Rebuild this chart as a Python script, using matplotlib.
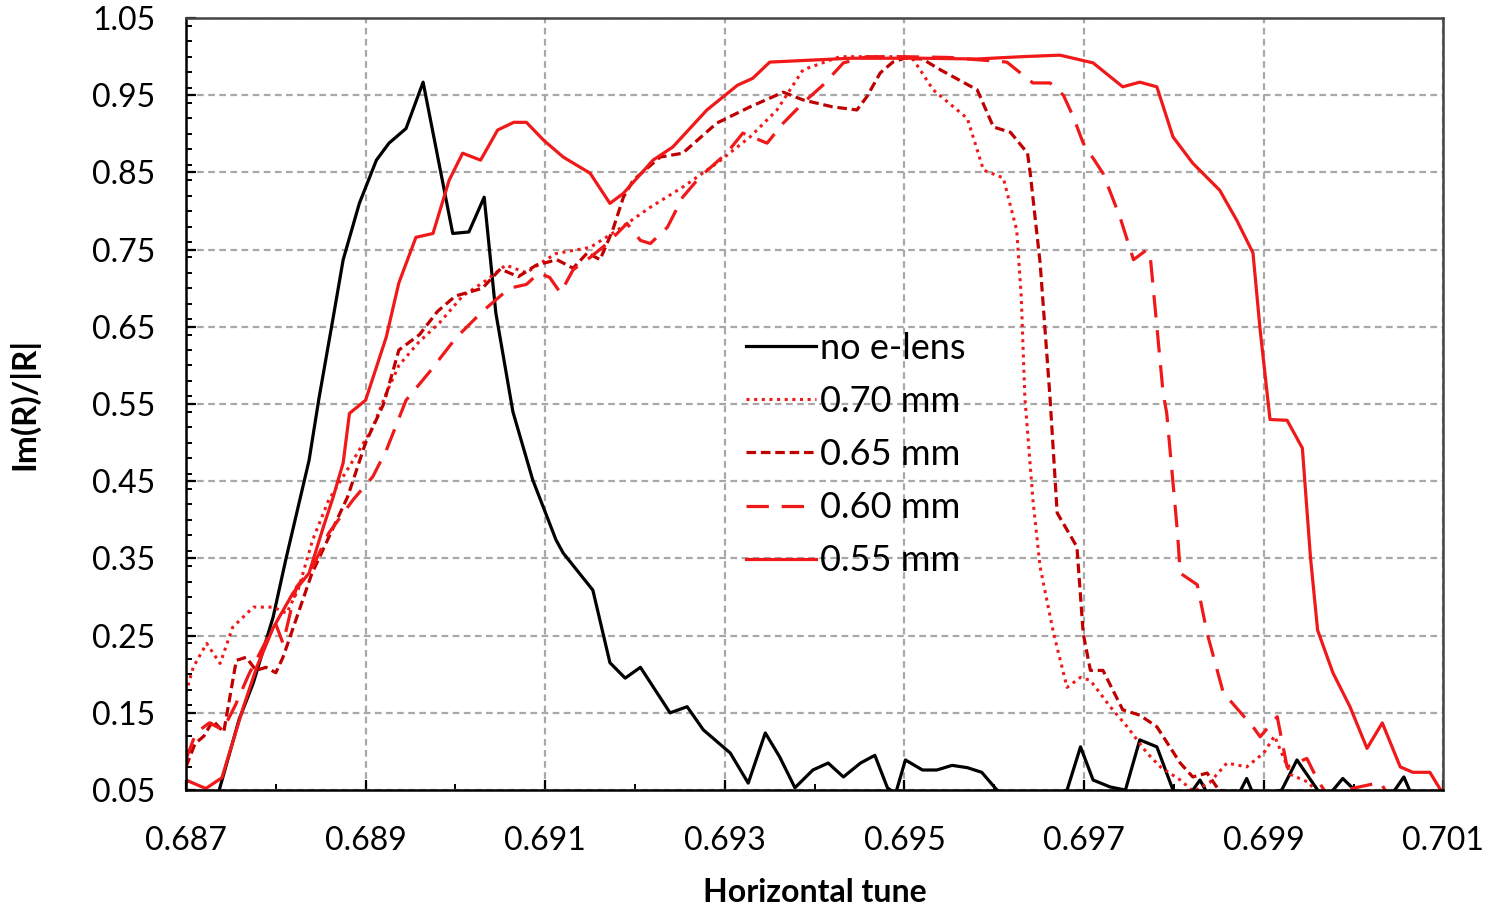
import matplotlib
matplotlib.use("Agg")
import matplotlib.pyplot as plt
from matplotlib.ticker import MultipleLocator

plt.rcParams["font.family"] = ["Lato", "DejaVu Sans"]

# no e-lens
x_none = [0.68737, 0.68759, 0.68775, 0.68797, 0.68811, 0.68837, 0.68848, 0.68864, 0.68875,
          0.68893, 0.68912, 0.68926, 0.68945, 0.68964, 0.68997, 0.69015, 0.69032, 0.69045,
          0.69064, 0.69086, 0.69112, 0.69120, 0.69153, 0.69172, 0.69189, 0.69206, 0.69239,
          0.69258, 0.69276, 0.69306, 0.69326, 0.69345, 0.69361, 0.69378, 0.69398, 0.69415,
          0.69432, 0.69451, 0.69467, 0.69481, 0.69490, 0.69501, 0.69520, 0.69536, 0.69553,
          0.69570, 0.69586, 0.69603, 0.69620, 0.69660, 0.69681, 0.69696, 0.69710, 0.69729,
          0.69746, 0.69762, 0.69781, 0.69799, 0.69815, 0.69829, 0.69840, 0.69870, 0.69881,
          0.69890, 0.69920, 0.69937, 0.69960, 0.69970, 0.69988, 0.70010, 0.70040, 0.70056,
          0.70066, 0.70100]
y_none = [0.050, 0.141, 0.189, 0.274, 0.348, 0.477, 0.557, 0.663, 0.737,
          0.810, 0.866, 0.888, 0.907, 0.967, 0.771, 0.773, 0.818, 0.668,
          0.540, 0.452, 0.374, 0.357, 0.309, 0.215, 0.195, 0.209, 0.150,
          0.158, 0.128, 0.098, 0.059, 0.124, 0.093, 0.053, 0.076, 0.085,
          0.067, 0.085, 0.095, 0.053, 0.045, 0.089, 0.076, 0.076, 0.082,
          0.079, 0.073, 0.050, 0.040, 0.040, 0.050, 0.106, 0.063, 0.054,
          0.050, 0.115, 0.106, 0.050, 0.040, 0.063, 0.040, 0.040, 0.065,
          0.040, 0.050, 0.089, 0.050, 0.040, 0.065, 0.040, 0.040, 0.067,
          0.040, 0.040]

# 0.70 mm
x_070 = [0.68700, 0.68708, 0.68723, 0.68738, 0.68752, 0.68775, 0.68797, 0.68812, 0.68825,
         0.68841, 0.68859, 0.68886, 0.68908, 0.68923, 0.68937, 0.68959, 0.68982, 0.69008,
         0.69034, 0.69056, 0.69079, 0.69098, 0.69112, 0.69150, 0.69180, 0.69217, 0.69253,
         0.69291, 0.69328, 0.69358, 0.69387, 0.69428, 0.69460, 0.69500, 0.69510, 0.69532,
         0.69570, 0.69588, 0.69610, 0.69625, 0.69630, 0.69634, 0.69643, 0.69651, 0.69666,
         0.69681, 0.69696, 0.69707, 0.69729, 0.69748, 0.69770, 0.69785, 0.69807, 0.69822,
         0.69840, 0.69859, 0.69881, 0.69900, 0.69912, 0.69930, 0.69950, 0.69960, 0.70000,
         0.70100]
y_070 = [0.176, 0.209, 0.240, 0.214, 0.261, 0.287, 0.287, 0.279, 0.310,
         0.374, 0.426, 0.477, 0.520, 0.564, 0.600, 0.630, 0.655, 0.690,
         0.710, 0.730, 0.720, 0.735, 0.745, 0.753, 0.775, 0.805, 0.831,
         0.862, 0.896, 0.931, 0.983, 1.000, 1.000, 1.000, 0.996, 0.957,
         0.920, 0.853, 0.843, 0.775, 0.689, 0.559, 0.426, 0.339, 0.253,
         0.183, 0.196, 0.192, 0.158, 0.132, 0.098, 0.080, 0.063, 0.048,
         0.060, 0.085, 0.080, 0.098, 0.120, 0.070, 0.060, 0.045, 0.040,
         0.040]

# 0.65 mm
x_065 = [0.68700, 0.68710, 0.68720, 0.68730, 0.68742, 0.68756, 0.68767, 0.68778, 0.68789,
         0.68800, 0.68808, 0.68840, 0.68860, 0.68880, 0.68900, 0.68920, 0.68937, 0.68960,
         0.68980, 0.69000, 0.69030, 0.69050, 0.69070, 0.69090, 0.69113, 0.69131, 0.69147,
         0.69161, 0.69175, 0.69187, 0.69198, 0.69228, 0.69253, 0.69291, 0.69328, 0.69365,
         0.69387, 0.69420, 0.69447, 0.69458, 0.69473, 0.69487, 0.69500, 0.69520, 0.69540,
         0.69581, 0.69599, 0.69618, 0.69637, 0.69640, 0.69651, 0.69662, 0.69670, 0.69692,
         0.69699, 0.69707, 0.69721, 0.69743, 0.69762, 0.69781, 0.69807, 0.69821, 0.69837,
         0.69850, 0.69900, 0.70100]
y_065 = [0.080, 0.110, 0.120, 0.140, 0.125, 0.218, 0.222, 0.205, 0.209,
         0.202, 0.222, 0.330, 0.380, 0.430, 0.500, 0.550, 0.620, 0.640,
         0.670, 0.690, 0.700, 0.725, 0.715, 0.730, 0.737, 0.726, 0.746,
         0.737, 0.775, 0.818, 0.840, 0.870, 0.875, 0.914, 0.935, 0.954,
         0.944, 0.935, 0.931, 0.948, 0.979, 0.993, 0.998, 0.997, 0.983,
         0.957, 0.909, 0.902, 0.875, 0.849, 0.733, 0.559, 0.409, 0.365,
         0.253, 0.205, 0.205, 0.154, 0.147, 0.132, 0.085, 0.067, 0.072,
         0.050, 0.040, 0.040]

# 0.60 mm
x_060 = [0.68700, 0.68711, 0.68726, 0.68741, 0.68755, 0.68770, 0.68790, 0.68800, 0.68808,
         0.68823, 0.68841, 0.68859, 0.68886, 0.68908, 0.68923, 0.68945, 0.68970, 0.69000,
         0.69030, 0.69060, 0.69079, 0.69093, 0.69105, 0.69117, 0.69131, 0.69150, 0.69169,
         0.69191, 0.69206, 0.69217, 0.69236, 0.69253, 0.69272, 0.69302, 0.69320, 0.69347,
         0.69365, 0.69387, 0.69409, 0.69432, 0.69458, 0.69500, 0.69550, 0.69614, 0.69643,
         0.69662, 0.69677, 0.69688, 0.69699, 0.69721, 0.69740, 0.69755, 0.69770, 0.69774,
         0.69788, 0.69792, 0.69804, 0.69807, 0.69826, 0.69837, 0.69855, 0.69888, 0.69896,
         0.69915, 0.69926, 0.69948, 0.69960, 0.69970, 0.70030, 0.70040, 0.70100]
y_060 = [0.090, 0.124, 0.137, 0.128, 0.160, 0.200, 0.245, 0.265, 0.240,
         0.313, 0.339, 0.383, 0.426, 0.456, 0.490, 0.555, 0.590, 0.635,
         0.670, 0.700, 0.705, 0.720, 0.714, 0.694, 0.724, 0.740, 0.758,
         0.784, 0.762, 0.758, 0.779, 0.818, 0.844, 0.875, 0.901, 0.888,
         0.914, 0.940, 0.963, 0.992, 1.000, 1.000, 0.999, 0.993, 0.966,
         0.966, 0.950, 0.922, 0.888, 0.849, 0.792, 0.737, 0.750, 0.737,
         0.564, 0.538, 0.383, 0.331, 0.316, 0.253, 0.176, 0.132, 0.119,
         0.145, 0.080, 0.091, 0.063, 0.045, 0.060, 0.040, 0.040]

# 0.55 mm
x_055 = [0.68700, 0.68722, 0.68740, 0.68764, 0.68779, 0.68797, 0.68819, 0.68837, 0.68853,
         0.68864, 0.68875, 0.68882, 0.68900, 0.68923, 0.68937, 0.68956, 0.68975, 0.68993,
         0.69008, 0.69028, 0.69047, 0.69065, 0.69079, 0.69098, 0.69120, 0.69150, 0.69172,
         0.69187, 0.69220, 0.69242, 0.69280, 0.69314, 0.69331, 0.69350, 0.69440, 0.69520,
         0.69580, 0.69630, 0.69673, 0.69710, 0.69743, 0.69762, 0.69781, 0.69799, 0.69821,
         0.69851, 0.69870, 0.69888, 0.69896, 0.69907, 0.69926, 0.69943, 0.69952, 0.69960,
         0.69977, 0.69996, 0.70015, 0.70032, 0.70052, 0.70066, 0.70085, 0.70097, 0.70100]
y_055 = [0.063, 0.052, 0.066, 0.158, 0.210, 0.260, 0.305, 0.331, 0.391,
         0.430, 0.474, 0.538, 0.555, 0.637, 0.707, 0.766, 0.771, 0.840,
         0.875, 0.866, 0.905, 0.915, 0.915, 0.892, 0.870, 0.849, 0.810,
         0.823, 0.866, 0.883, 0.931, 0.963, 0.972, 0.993, 0.998, 0.998,
         0.997, 1.000, 1.002, 0.992, 0.961, 0.967, 0.961, 0.896, 0.862,
         0.827, 0.788, 0.746, 0.646, 0.530, 0.529, 0.493, 0.352, 0.257,
         0.202, 0.158, 0.104, 0.137, 0.080, 0.073, 0.073, 0.050, 0.050]

red = "#F01818"
dark_red = "#C00000"

fig = plt.figure(figsize=(14.88, 9.05), dpi=100)
ax = fig.add_axes([0.125, 0.127, 0.845, 0.853])

ax.plot(x_none, y_none, color="black", lw=2.3, label="no e-lens")
ax.plot(x_070, y_070, color=red, lw=2.2, linestyle=(0, (1, 1.5)), label="0.70 mm")
ax.plot(x_065, y_065, color=dark_red, lw=2.3, linestyle=(0, (3, 1.5)), label="0.65 mm")
ax.plot(x_060, y_060, color=red, lw=2.3, linestyle=(0, (7, 4)), label="0.60 mm")
ax.plot(x_055, y_055, color=red, lw=2.3, label="0.55 mm")

ax.set_xlim(0.687, 0.701)
ax.set_ylim(0.05, 1.05)
ax.xaxis.set_minor_locator(MultipleLocator(0.001))
ax.yaxis.set_minor_locator(MultipleLocator(0.02))
ax.set_xticks([0.687 + 0.002 * i for i in range(8)])
ax.set_xticklabels([f"{0.687 + 0.002 * i:.3f}" for i in range(8)])
ax.set_yticks([0.05 + 0.1 * i for i in range(11)])
ax.set_yticklabels([f"{0.05 + 0.1 * i:.2f}" for i in range(11)])

ax.grid(True, which="major", color="#A8A8A8", linestyle=(0, (3, 2)), lw=1.6)
ax.tick_params(which="both", direction="in", color="black", labelsize=23)
ax.tick_params(which="major", length=7, width=1.6)
ax.tick_params(which="minor", length=4, width=1.4)
ax.tick_params(axis="y", pad=22)
ax.tick_params(axis="x", pad=26)

for side in ["left", "bottom"]:
    ax.spines[side].set_color("black")
    ax.spines[side].set_linewidth(1.8)
for side in ["top", "right"]:
    ax.spines[side].set_color("#444444")
    ax.spines[side].set_linewidth(1.8)

ax.set_xlabel("Horizontal tune", fontsize=23, fontweight="bold", labelpad=16)
ax.set_ylabel("Im(R)/|R|", fontsize=24, fontweight="bold", labelpad=38)

ax.legend(loc="upper left", bbox_to_anchor=(0.445, 0.594), frameon=False,
          fontsize=26, handlelength=1.95, handletextpad=0.1, labelspacing=0.56,
          borderpad=0, borderaxespad=0)

fig.savefig("out.png", dpi=100)
